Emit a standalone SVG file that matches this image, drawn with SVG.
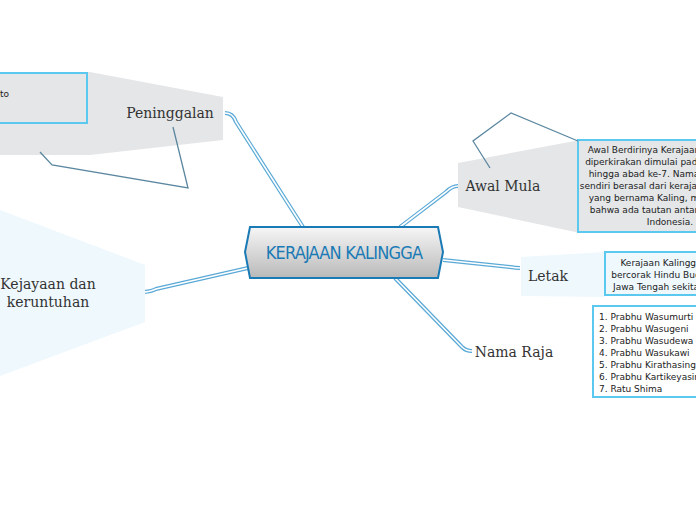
<svg xmlns="http://www.w3.org/2000/svg" width="696" height="520" viewBox="0 0 696 520">
<defs>
<linearGradient id="g" x1="0" y1="0" x2="0" y2="1"><stop offset="0" stop-color="#f6f6f6"/><stop offset="1" stop-color="#b9b9b9"/></linearGradient>
<style>
.c1{fill:none;stroke:#5aa9d6;stroke-width:4}
.c2{fill:none;stroke:#fff;stroke-width:1.6}
.rel{fill:none;stroke:#5b87a0;stroke-width:1.3}
.lbl{font-family:"DejaVu Serif","Liberation Serif",serif;font-size:14px;fill:#333}
.box{fill:#fff;stroke:#5bc8f0;stroke-width:2}
.t{font-family:"DejaVu Sans","Liberation Sans",sans-serif;font-size:9px;fill:#222}
</style>
</defs>
<rect width="696" height="520" fill="#fff"/>
<g id="connectors">
<path class="c1" d="M225,113 Q233,113 236,122 L303,227"/><path class="c2" d="M225,113 Q233,113 236,122 L303,227"/>
<path class="c1" d="M400,227 L446,192 Q452,186 458,186"/><path class="c2" d="M400,227 L446,192 Q452,186 458,186"/>
<path class="c1" d="M443,260 L510,267 Q516,268 520,268"/><path class="c2" d="M443,260 L510,267 Q516,268 520,268"/>
<path class="c1" d="M395,278 L462,347 Q466,351 472,351"/><path class="c2" d="M395,278 L462,347 Q466,351 472,351"/>
<path class="c1" d="M142,292 Q150,292 156,289 L248,268"/><path class="c2" d="M142,292 Q150,292 156,289 L248,268"/>
</g>
<g id="peninggalan">
<polygon points="0,72 90,72 223,97 223,140 90,155 0,155" fill="#e4e6e8"/>
<rect class="box" x="-5" y="73" width="92" height="50" style="fill:#e4e6e8"/>
<text class="t" x="0" y="97">to</text>
<text class="lbl" x="170" y="118" text-anchor="middle">Peninggalan</text>
</g>
<g id="awal-mula">
<polygon points="458,163 580,140 580,233 458,207" fill="#e4e6e8"/>
<rect class="box" x="578" y="140" width="124" height="92" style="fill:#e4e6e8"/>
<g class="t" text-anchor="middle">
<text x="644" y="153">Awal Berdirinya Kerajaan</text>
<text x="644" y="165">diperkirakan dimulai pada</text>
<text x="644" y="177">hingga abad ke-7. Nama</text>
<text x="644" y="189">sendiri berasal dari kerajaan</text>
<text x="644" y="201">yang bernama Kaling, m</text>
<text x="644" y="213">bahwa ada tautan antar</text>
<text x="670" y="225">Indonesia.</text>
</g>
<text class="lbl" x="503" y="191" text-anchor="middle">Awal Mula</text>
</g>
<g id="letak">
<polygon points="521,257 605,252 605,297 521,296" fill="#eef8fd"/>
<rect class="box" x="605" y="252" width="97" height="43" style="fill:#eef8fd"/>
<g class="t" text-anchor="middle">
<text x="661" y="266">Kerajaan Kalingga</text>
<text x="656" y="278">bercorak Hindu Bud</text>
<text x="656" y="290">Jawa Tengah sekita</text>
</g>
<text class="lbl" x="548" y="281" text-anchor="middle">Letak</text>
</g>
<g id="nama-raja">
<text class="lbl" x="514" y="357" text-anchor="middle">Nama Raja</text>
<rect class="box" x="593" y="306" width="110" height="91"/>
<g class="t">
<text x="599" y="320">1. Prabhu Wasumurti</text>
<text x="599" y="332">2. Prabhu Wasugeni</text>
<text x="599" y="344">3. Prabhu Wasudewa</text>
<text x="599" y="356">4. Prabhu Wasukawi</text>
<text x="599" y="368">5. Prabhu Kirathasingh</text>
<text x="599" y="380">6. Prabhu Kartikeyasin</text>
<text x="599" y="392">7. Ratu Shima</text>
</g>
</g>
<g id="kejayaan">
<polygon points="0,210 145,265 145,322 0,376" fill="#eef8fd"/>
<text class="lbl" x="48" y="289" text-anchor="middle">Kejayaan dan</text>
<text class="lbl" x="48" y="307" text-anchor="middle">keruntuhan</text>
</g>
<g id="central">
<polygon points="250,227 438,227 443,252 438,278 250,278 245,252" fill="url(#g)" stroke="#1a7ab5" stroke-width="2"/>
<text x="344" y="259" text-anchor="middle" font-family="'DejaVu Sans Condensed','Liberation Sans Narrow',sans-serif" font-size="18" fill="#1a7ab5" letter-spacing="-0.8">KERAJAAN KALINGGA</text>
</g>
<g id="relationships">
<polyline class="rel" points="40,152 52,165 188,188 173,127"/>
<polyline class="rel" points="490,168 473,141 511,113 578,141"/>
</g>
</svg>
